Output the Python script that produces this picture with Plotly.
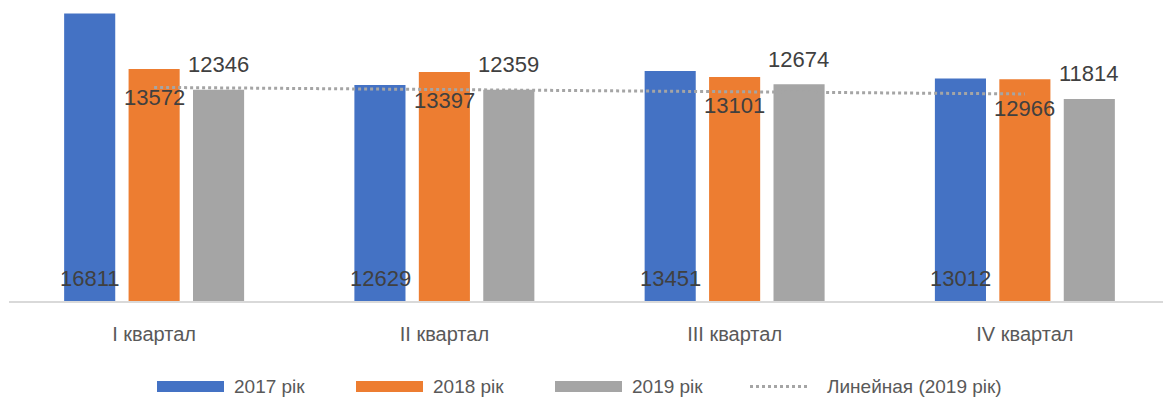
import numpy as np
import plotly.graph_objects as go

categories = ["I квартал", "II квартал", "III квартал", "IV квартал"]
series_names = ["2017 рік", "2018 рік", "2019 рік"]
values_2017 = [16811, 12629, 13451, 13012]
values_2018 = [13572, 13397, 13101, 12966]
values_2019 = [12346, 12359, 12674, 11814]
colors = ["#4472C4", "#ED7D31", "#A5A5A5"]
trend_name = "Линейная (2019 рік)"

all_values = [values_2017, values_2018, values_2019]

W, H = 1163, 393
ML, MR, MT, MB = 1, 1, 0, 100
PW, PH = W - ML - MR, H - MT - MB


def px(x):  # figure pixel -> paper x
    return (x - ML) / PW


def py(y):  # figure pixel -> paper y
    return (H - MB - y) / PH


fig = go.Figure()
for name, vals, col in zip(series_names, all_values, colors):
    fig.add_trace(go.Bar(x=categories, y=vals, name=name, marker=dict(color=col, line=dict(width=0)),
                         showlegend=False, hoverinfo="y"))

# linear trendline of 2019 values
xi = np.arange(1, len(values_2019) + 1)
slope, intercept = np.polyfit(xi, values_2019, 1)
trend = slope * xi + intercept
fig.add_trace(go.Scatter(x=categories, y=trend, mode="lines", name=trend_name,
                         line=dict(color="#A5A5A5", width=3, dash="dot"), showlegend=False,
                         hoverinfo="skip"))

label_font = dict(family="Liberation Sans, Arial, sans-serif", size=22, color="#404040")
offsets = [-64, 0, 64]
for cat, v1, v2, v3 in zip(categories, values_2017, values_2018, values_2019):
    fig.add_annotation(x=cat, y=0, text=str(v1), showarrow=False, xshift=offsets[0], yshift=23,
                       yanchor="middle", font=label_font)
    fig.add_annotation(x=cat, y=v2, text=str(v2), showarrow=False, xshift=offsets[1], yshift=-29,
                       yanchor="middle", font=label_font)
    fig.add_annotation(x=cat, y=v3, text=str(v3), showarrow=False, xshift=offsets[2], yshift=25,
                       yanchor="middle", font=label_font)

# manual legend (Excel style wide swatches)
leg_font = dict(family="Liberation Sans, Arial, sans-serif", size=19, color="#595959")
leg_names = series_names + [trend_name]
leg_start = 149      # figure px of first swatch
leg_step = 199
sw_w = 67
cy = 378.5
for i, name in enumerate(leg_names):
    x0 = leg_start + i * leg_step
    if i < 3:
        fig.add_shape(type="rect", xref="paper", yref="paper",
                      x0=px(x0), x1=px(x0 + sw_w), y0=py(cy - 5.5), y1=py(cy + 5.5),
                      fillcolor=colors[i], line=dict(width=0))
        tx = x0 + sw_w + 8
    else:
        x0 = x0 - 4
        fig.add_shape(type="line", xref="paper", yref="paper",
                      x0=px(x0), x1=px(x0 + 60), y0=py(cy), y1=py(cy),
                      line=dict(color="#A5A5A5", width=3, dash="dot"))
        tx = x0 + 60 + 15
    fig.add_annotation(xref="paper", yref="paper", x=px(tx), y=py(cy), text=name,
                       showarrow=False, xanchor="left", yanchor="middle", font=leg_font)

fig.update_layout(
    width=W, height=H,
    margin=dict(l=ML, r=MR, t=MT, b=MB, autoexpand=False),
    paper_bgcolor="white", plot_bgcolor="white",
    barmode="group", bargap=0.334, bargroupgap=0.207,
    font=dict(family="Liberation Sans, Arial, sans-serif", color="#595959"),
    showlegend=False,
    xaxis=dict(showline=True, linecolor="#D9D9D9", linewidth=2, ticks="",
               tickfont=dict(family="Liberation Sans, Arial", size=20, color="#595959"),
               ticklabelstandoff=14, fixedrange=True),
    yaxis=dict(range=[0, 17132], visible=False, showgrid=False, zeroline=False, fixedrange=True),
)

fig.write_html("out.html")
